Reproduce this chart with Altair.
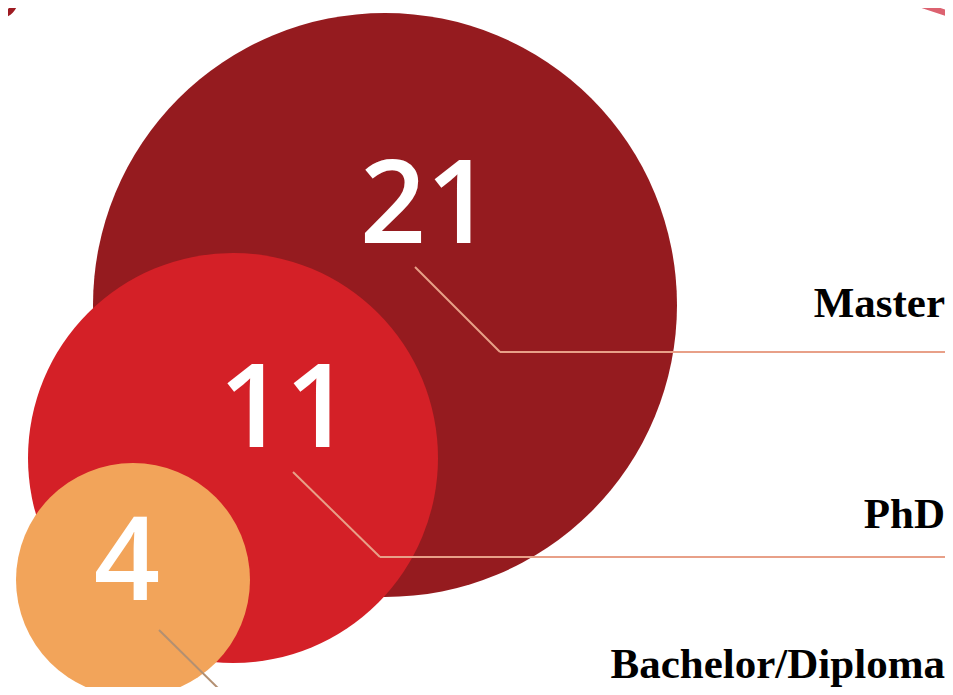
import altair as alt
import pandas as pd

# ---- data ----
values = [21, 11, 4]
labels = ["Master", "PhD", "Bachelor/Diploma"]

# ---- styling / layout (page pixel coordinates) ----
colors = ["#951B1F", "#D42027", "#F2A45A"]
lead_colors = ["#E8A088", "#E8A088", "#B39072"]
circle_x = [385, 233, 133]
circle_y = [305, 458, 580]
radius_px = [292, 205, 117]
number_x = [426, 285, 127]
number_y = [243, 447, 600]
label_x = [945, 945, 945]
label_y = [317, 528, 678]
lead_start_x = [415, 293, 159]
lead_start_y = [267, 472, 630]
lead_elbow_x = [500, 380, 225]
lead_elbow_y = [352, 557, 695]
lead_end_x = [952, 952, None]

W, H = 937, 679
xs = alt.Scale(domain=[8, 8 + W], nice=False, zero=False)
ys = alt.Scale(domain=[8, 8 + H], nice=False, zero=False, reverse=True)

df = pd.DataFrame({
    "label": labels, "value": values,
    "cx": circle_x, "cy": circle_y,
    "nx": number_x, "ny": number_y,
    "lx": label_x, "ly": label_y,
})

# size scale: circle symbol size (= diameter squared in Vega) mapped from the values
order = sorted(range(3), key=lambda i: values[i])
size_scale = alt.Scale(domain=[values[i] for i in order],
                       range=[(2 * radius_px[i]) ** 2 for i in order])
color_scale = alt.Scale(domain=labels, range=colors)

circles = alt.Chart(df).mark_circle(opacity=1).encode(
    x=alt.X("cx:Q", scale=xs, axis=None),
    y=alt.Y("cy:Q", scale=ys, axis=None),
    size=alt.Size("value:Q", scale=size_scale, legend=None),
    color=alt.Color("label:N", scale=color_scale, legend=None),
    order=alt.Order("value:Q", sort="descending"),
)

numbers = alt.Chart(df).mark_text(
    font="Open Sans", fontWeight=600, fontSize=116, color="white",
    align="center", baseline="alphabetic",
).encode(
    x=alt.X("nx:Q", scale=xs, axis=None),
    y=alt.Y("ny:Q", scale=ys, axis=None),
    text=alt.Text("value:Q"),
)

names = alt.Chart(df).mark_text(
    font="Liberation Serif", fontWeight="bold", fontSize=43, color="black",
    align="right", baseline="alphabetic",
).encode(
    x=alt.X("lx:Q", scale=xs, axis=None),
    y=alt.Y("ly:Q", scale=ys, axis=None),
    text="label:N",
)

segs = []
for i in range(3):
    segs.append({"x": lead_start_x[i], "y": lead_start_y[i], "x2": lead_elbow_x[i],
                 "y2": lead_elbow_y[i], "c": lead_colors[i]})
    if lead_end_x[i] is not None:
        segs.append({"x": lead_elbow_x[i], "y": lead_elbow_y[i], "x2": lead_end_x[i],
                     "y2": lead_elbow_y[i], "c": lead_colors[i]})
seg_df = pd.DataFrame(segs)

leaders = alt.Chart(seg_df).mark_rule(strokeWidth=2).encode(
    x=alt.X("x:Q", scale=xs, axis=None),
    y=alt.Y("y:Q", scale=ys, axis=None),
    x2="x2:Q", y2="y2:Q",
    color=alt.Color("c:N", scale=None, legend=None),
)

dots_df = pd.DataFrame({"x": [e for e in lead_end_x if e is not None],
                        "y": [lead_elbow_y[i] for i in range(3) if lead_end_x[i] is not None]})
dots = alt.Chart(dots_df).mark_circle(color="#E88A70", opacity=1, size=50).encode(
    x=alt.X("x:Q", scale=xs, axis=None),
    y=alt.Y("y:Q", scale=ys, axis=None),
)

# decorative fragments at the top corners
deco_df = pd.DataFrame({"x": [0], "y": [0]})
ring = alt.Chart(deco_df).mark_arc(
    color="#9E1B22", theta=1.5708, theta2=3.1416, radius=18, radius2=12,
).encode(
    x=alt.X("x:Q", scale=xs, axis=None),
    y=alt.Y("y:Q", scale=ys, axis=None),
)

swoosh_df = pd.DataFrame({"x": [898], "y": [-3], "x2": [958], "y2": [17]})
swoosh = alt.Chart(swoosh_df).mark_rule(color="#DC6270", strokeWidth=6, strokeCap="round").encode(
    x=alt.X("x:Q", scale=xs, axis=None),
    y=alt.Y("y:Q", scale=ys, axis=None),
    x2="x2:Q", y2="y2:Q",
)

chart = alt.layer(circles, leaders, dots, numbers, names, ring, swoosh).properties(
    width=W, height=H,
    autosize=alt.AutoSizeParams(type="none"),
    padding=0,
    background="white",
).configure_view(strokeWidth=0)

chart.save("out.html", embed_options={"renderer": "svg", "actions": False})
